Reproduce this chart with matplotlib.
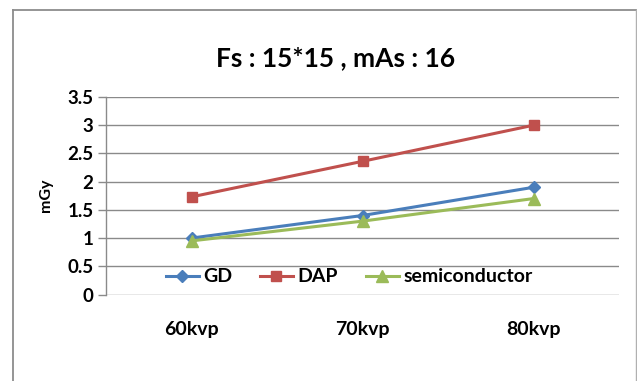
import matplotlib
matplotlib.use("Agg")
import matplotlib.pyplot as plt
from matplotlib.lines import Line2D

categories = ["60kvp", "70kvp", "80kvp"]
gd = [1.0, 1.4, 1.9]
dap = [1.73, 2.36, 3.0]
semiconductor = [0.95, 1.3, 1.7]
yticks = [0, 0.5, 1, 1.5, 2, 2.5, 3, 3.5]
ytick_labels = ["0", "0.5", "1", "1.5", "2", "2.5", "3", "3.5"]

plt.rcParams["font.family"] = ["Lato", "DejaVu Sans"]
plt.rcParams["font.weight"] = "bold"

W, H = 637, 381
fig = plt.figure(figsize=(W / 100, H / 100), dpi=100)

# outer chart frame (left, top, right edges)
frame_c = "#8c8c8c"
fig.add_artist(Line2D([12.5 / W, 12.5 / W], [0, 1 - 9.5 / H], transform=fig.transFigure, color=frame_c, lw=1.3))
fig.add_artist(Line2D([12.5 / W, 636 / W], [1 - 9.5 / H, 1 - 9.5 / H], transform=fig.transFigure, color=frame_c, lw=1.3))
fig.add_artist(Line2D([636 / W, 636 / W], [0, 1 - 9.5 / H], transform=fig.transFigure, color="#b0b0b0", lw=1.0))

left, right = 106 / W, 619 / W
top, bottom = 1 - 97 / H, 1 - 294.5 / H
ax = fig.add_axes([left, bottom, right - left, top - bottom])

x = list(range(len(categories)))
ax.plot(x, gd, color="#4a7ebb", lw=2.2, marker="D", ms=6.5, label="GD")
ax.plot(x, dap, color="#c0504d", lw=2.2, marker="s", ms=7.5, label="DAP")
ax.plot(x, semiconductor, color="#9bbb59", lw=2.2, marker="^", ms=8, label="semiconductor")

ax.set_xlim(-0.5, len(categories) - 0.5)
ax.set_ylim(0, 3.5)
ax.set_yticks(yticks)
ax.set_yticklabels(ytick_labels)
ax.set_xticks(x)
ax.set_xticklabels(categories)

grid_c = "#8a8a8a"
for yv in yticks:
    ax.axhline(yv, color=grid_c, lw=1.0, zorder=0)
for s in ["top", "right", "bottom"]:
    ax.spines[s].set_visible(False)
ax.spines["left"].set_color(grid_c)
ax.spines["left"].set_linewidth(1.0)

ax.tick_params(axis="y", length=6, width=1.0, color=grid_c, labelsize=13.5, pad=3)
ax.tick_params(axis="x", length=0, labelsize=14, pad=19)
for lab in ax.get_xticklabels() + ax.get_yticklabels():
    lab.set_fontweight("bold")

ax.set_ylabel("mGy", fontsize=11.5, fontweight="bold", labelpad=10)

fig.text(336 / W, 1 - 58 / H, "Fs : 15*15 , mAs : 16", ha="center", va="center",
         fontsize=19, fontweight="bold")

leg = ax.legend(loc="center", bbox_to_anchor=(0.474, 0.089), ncol=3, frameon=False,
                fontsize=14, handlelength=1.7, columnspacing=1.4, handletextpad=0.25,
                borderpad=0)
for t in leg.get_texts():
    t.set_fontweight("bold")

fig.savefig("out.png", dpi=100)
